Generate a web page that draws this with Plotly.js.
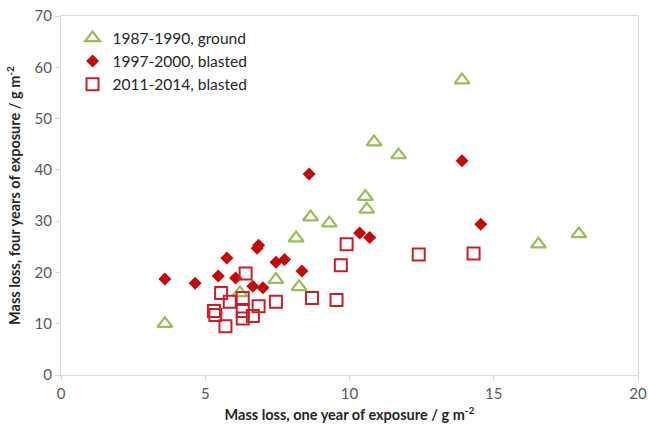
<!DOCTYPE html>
<html>
<head>
<meta charset="utf-8">
<script src="https://cdn.plot.ly/plotly-3.0.1.min.js"></script>
<style>html,body{margin:0;padding:0;background:#fff;}#chart{width:648px;height:430px;}</style>
</head>
<body>
<div id="chart"></div>
<script>
// 1987-1990, ground
const groundX = [3.6, 6.2, 7.45, 8.15, 8.25, 8.65, 9.3, 10.55, 10.6, 10.85, 11.7, 13.9, 16.55, 17.95];
const groundY = [10.0, 16.0, 18.6, 26.7, 17.2, 30.8, 29.6, 34.8, 32.3, 45.4, 42.9, 57.5, 25.5, 27.5];
// 1997-2000, blasted
const blast97X = [3.6, 4.65, 5.45, 5.75, 6.05, 6.65, 6.8, 6.85, 7.0, 7.45, 7.75, 8.35, 8.6, 10.35, 10.7, 13.9, 14.55];
const blast97Y = [18.7, 17.9, 19.3, 22.8, 18.9, 17.3, 24.7, 25.3, 17.0, 22.0, 22.5, 20.3, 39.2, 27.7, 26.8, 41.8, 29.4];
// 2011-2014, blasted
const blast11X = [5.3, 5.35, 5.7, 5.55, 5.85, 6.3, 6.3, 6.3, 6.4, 6.65, 6.85, 7.45, 8.7, 9.55, 9.7, 9.9, 12.4, 14.3];
const blast11Y = [12.5, 11.7, 9.5, 16.0, 14.3, 15.0, 12.5, 11.0, 19.8, 11.5, 13.4, 14.3, 15.0, 14.6, 21.4, 25.5, 23.5, 23.7];

const seriesNames = ['1987-1990, ground', '1997-2000, blasted', '2011-2014, blasted'];
const xTicks = [0, 5, 10, 15, 20];
const yTicks = [0, 10, 20, 30, 40, 50, 60, 70];

const traces = [
  {x: groundX, y: groundY, name: seriesNames[0], type: 'scatter', mode: 'markers',
   marker: {symbol: 'triangle-up-open', size: 13, color: '#9BBB59', line: {width: 2.2, color: '#9BBB59'}}},
  {x: blast97X, y: blast97Y, name: seriesNames[1], type: 'scatter', mode: 'markers',
   marker: {symbol: 'diamond', size: 10, color: '#C40A0A', line: {width: 0}}},
  {x: blast11X, y: blast11Y, name: seriesNames[2], type: 'scatter', mode: 'markers',
   marker: {symbol: 'square-open', size: 12, color: '#C8202A', line: {width: 2, color: '#C8202A'}}}
];

const fontFam = 'Lato, "Open Sans", sans-serif';
const axisCommon = {
  showgrid: false, zeroline: false, showline: true, linecolor: '#D9D9D9', linewidth: 1, mirror: true,
  ticks: 'outside', ticklen: 5, tickcolor: '#D9D9D9', tickwidth: 1,
  tickfont: {family: fontFam, size: 15, color: '#595959'}
};

const layout = {
  width: 648, height: 430,
  margin: {l: 61, r: 10, t: 16, b: 55},
  paper_bgcolor: '#fff', plot_bgcolor: '#fff',
  showlegend: true,
  legend: {x: 0.02, y: 0.985, xanchor: 'left', yanchor: 'top', bgcolor: 'rgba(0,0,0,0)',
    font: {family: fontFam, size: 15.5, color: '#262626'}, tracegroupgap: 0},
  xaxis: Object.assign({}, axisCommon, {range: [0, 20], tickvals: xTicks, ticktext: xTicks.map(String),
    title: {text: '<b>Mass loss, one year of exposure / g m<sup>-2</sup></b>', standoff: 8,
      font: {family: fontFam, size: 14.5, color: '#262626'}}}),
  yaxis: Object.assign({}, axisCommon, {range: [0, 70], tickvals: yTicks, ticktext: yTicks.map(String),
    title: {text: '<b>Mass loss, four years of exposure / g m<sup>-2</sup></b>', standoff: 10,
      font: {family: fontFam, size: 14.5, color: '#262626'}}})
};

Plotly.newPlot('chart', traces, layout, {displayModeBar: false, staticPlot: true});
</script>
</body>
</html>
